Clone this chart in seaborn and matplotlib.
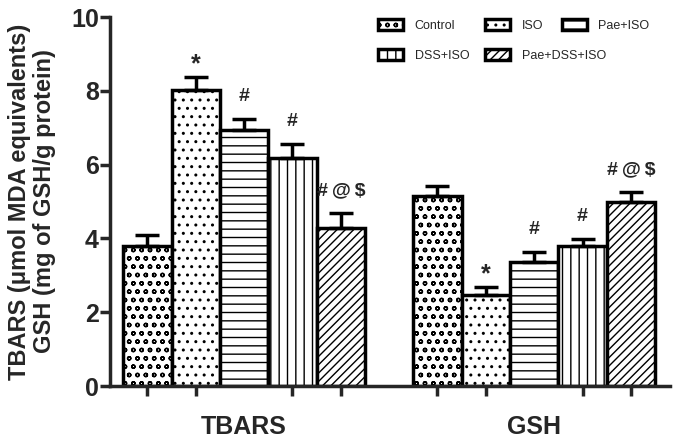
import matplotlib
matplotlib.use("Agg")
import matplotlib.pyplot as plt
from matplotlib.patches import Patch
from matplotlib.container import BarContainer
import seaborn as sns
import pandas as pd
import numpy as np

assays = ["TBARS", "GSH"]
groups = ["Control", "ISO", "Pae+ISO", "DSS+ISO", "Pae+DSS+ISO"]
tbars_mean = [3.79, 8.01, 6.94, 6.19, 4.29]
tbars_err = [0.29, 0.37, 0.29, 0.38, 0.40]
gsh_mean = [5.16, 2.46, 3.37, 3.79, 4.98]
gsh_err = [0.25, 0.21, 0.27, 0.19, 0.28]
tbars_sig = ["", "*", "#", "#", "#\u2009@\u2009$"]
gsh_sig = ["", "*", "#", "#", "#\u2009@\u2009$"]

hatches = ["oo", "..", "--", "||", "////"]

df = pd.DataFrame({
    "assay": [a for a in assays for _ in groups],
    "group": groups * 2,
    "value": tbars_mean + gsh_mean,
})
errs = {"TBARS": tbars_err, "GSH": gsh_err}
means = {"TBARS": tbars_mean, "GSH": gsh_mean}
sigs = {"TBARS": tbars_sig, "GSH": gsh_sig}

sns.set_style("ticks")
plt.rcParams["font.family"] = ["Liberation Sans", "DejaVu Sans"]
plt.rcParams["hatch.linewidth"] = 1.0
plt.rcParams["hatch.color"] = "black"

fig = plt.figure(figsize=(6.77, 4.44), dpi=100)
ax = fig.add_axes([0.1625, 0.1306, 0.8275, 0.8311])

sns.barplot(data=df, x="assay", y="value", hue="group", order=assays,
            hue_order=groups, palette=["white"] * 5, edgecolor="black",
            linewidth=2.5, errorbar=None, width=5 / 6, legend=False, ax=ax)

bar_conts = [c for c in ax.containers if isinstance(c, BarContainer)]
centers = []
for i, cont in enumerate(bar_conts):
    for j, bar in enumerate(cont.patches):
        bar.set_hatch(hatches[i])
        bar.set_facecolor("white")
        bar.set_edgecolor("black")
        a = assays[j]
        x = bar.get_x() + bar.get_width() / 2
        centers.append(x)
        m = means[a][i]
        e = errs[a][i]
        ax.errorbar(x, m, yerr=[[0], [e]], fmt="none", ecolor="black",
                    elinewidth=2.5, capsize=8.5, capthick=2.5, zorder=1)
        s = sigs[a][i]
        if s:
            if s == "*":
                ax.text(x, m + e + 0.02, s, ha="center", va="bottom",
                        fontsize=18, fontweight="bold")
            else:
                ax.text(x, m + e + 0.38, s, ha="center", va="bottom",
                        fontsize=14, fontweight="bold")

ax.set_ylim(0, 10)
ax.set_xlim(-0.462, 1.469)
ax.set_yticks([0, 2, 4, 6, 8, 10])
ax.set_xticks([0, 1])
ax.set_xticklabels(assays, fontsize=18, fontweight="bold")
ax.set_xticks(sorted(centers), minor=True)
ax.tick_params(axis="x", which="major", length=0, pad=21)
ax.tick_params(axis="x", which="minor", length=7, width=2.5, direction="out")
ax.tick_params(axis="y", length=7, width=2.5, direction="out", labelsize=18, pad=1)
for lab in ax.get_yticklabels():
    lab.set_fontweight("bold")
ax.set_xlabel("")
ax.set_ylabel("TBARS (μmol MDA equivalents)\nGSH (mg of GSH/g protein)",
              fontsize=17, fontweight="bold", labelpad=11, linespacing=1.12)
for sp in ["top", "right"]:
    ax.spines[sp].set_visible(False)
for sp in ["left", "bottom"]:
    ax.spines[sp].set_linewidth(2.5)

handles = [Patch(facecolor="white", edgecolor="black", linewidth=2.5, hatch=h)
           for h in hatches]
leg_kw = dict(frameon=False, fontsize=9, handlelength=2.0, handleheight=1.0,
              handletextpad=0.9, labelspacing=1.4, borderpad=0,
              borderaxespad=0, loc="upper left")
order = [0, 3, 1, 4]
leg1 = ax.legend([handles[k] for k in order], [groups[k] for k in order],
                 ncol=2, columnspacing=1.3, bbox_to_anchor=(0.479, 0.995), **leg_kw)
ax.add_artist(leg1)
ax.legend([handles[2]], [groups[2]], bbox_to_anchor=(0.807, 0.995), **leg_kw)

fig.savefig("out.png", dpi=100)
